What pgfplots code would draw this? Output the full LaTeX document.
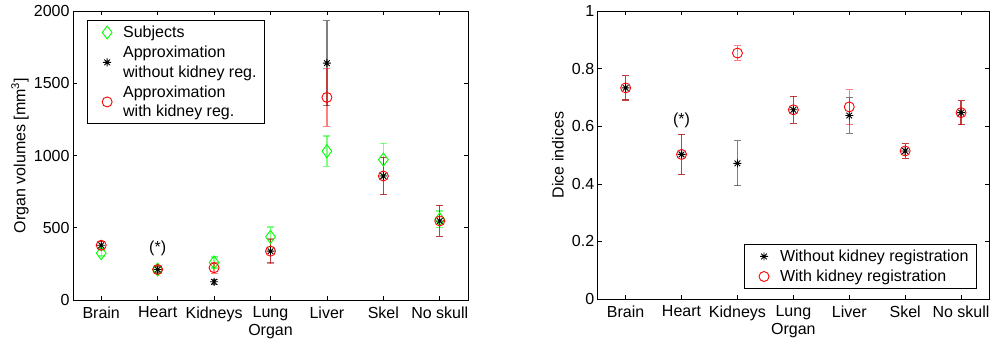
\documentclass[border=0pt]{standalone}
\usepackage{fontspec}
\setmainfont{Liberation Sans}
\usepackage{pgfplots}
\pgfplotsset{compat=1.18}
\usepackage{pgfplotstable}
\pgfdeclareplotmark{mstar}{%
 \pgfpathmoveto{\pgfqpoint{0pt}{\pgfplotmarksize}}\pgfpathlineto{\pgfqpoint{0pt}{-\pgfplotmarksize}}%
 \pgfpathmoveto{\pgfqpoint{\pgfplotmarksize}{0pt}}\pgfpathlineto{\pgfqpoint{-\pgfplotmarksize}{0pt}}%
 \pgfpathmoveto{\pgfqpoint{.707\pgfplotmarksize}{.707\pgfplotmarksize}}\pgfpathlineto{\pgfqpoint{-.707\pgfplotmarksize}{-.707\pgfplotmarksize}}%
 \pgfpathmoveto{\pgfqpoint{-.707\pgfplotmarksize}{.707\pgfplotmarksize}}\pgfpathlineto{\pgfqpoint{.707\pgfplotmarksize}{-.707\pgfplotmarksize}}%
 \pgfusepathqstroke}
\definecolor{mgreen}{RGB}{0,255,0}
\definecolor{mred}{RGB}{255,0,0}
\pgfplotstableread{
x y e
1 324 20
2 211 30
3 260 38
4 437 68
5 1030 105
6 972 113
7 559 57
}\volsub
\pgfplotstableread{
x y e
1 379 25
2 211 20
3 126 18
4 338 80
5 1639 294
6 858 130
7 547 107
}\volnoreg
\pgfplotstableread{
x y e
1 379 28
2 211 25
3 223 38
4 338 86
5 1402 200
6 858 130
7 547 107
}\volreg
\pgfplotstableread{
x y e
1 0.733 0.042
2 0.502 0.070
3 0.471 0.078
4 0.657 0.047
5 0.637 0.062
6 0.514 0.025
7 0.647 0.042
}\dicenoreg
\pgfplotstableread{
x y e
1 0.733 0.042
2 0.502 0.070
3 0.854 0.025
4 0.657 0.047
5 0.667 0.060
6 0.514 0.025
7 0.647 0.042
}\dicereg
\pgfplotsset{
  mstyle/.style={
    scale only axis,
    font=\fontsize{16}{19.5}\selectfont,
    /pgf/number format/assume math mode=true,
    /pgf/number format/1000 sep={},
    scaled y ticks=false,
    xmin=0.5, xmax=7.5,
    xtick={1,2,3,4,5,6,7},
    xticklabels={Brain,Heart,Kidneys,Lung,Liver,Skel,No skull},
    x tick label style={yshift=-3pt},
    tick align=inside,
    major tick length=4pt,
    axis line style={line width=0.8pt},
    every tick/.style={black, line width=0.6pt},
    xlabel={Organ},
    x label style={at={(axis description cs:0.5,0)}, anchor=center, yshift=-32pt},
    legend style={draw=black, line width=0.9pt, inner xsep=6pt, inner ysep=3.5pt,
      row sep=3pt, font=\fontsize{16}{19.5}\selectfont,
      cells={anchor=west, align=left}},
  },
  limg/.style={legend image code/.code={\path[draw=none,fill=none] (0pt,0pt) (28pt,0pt);\draw[##1] plot[only marks] coordinates {(14pt,0pt)};}},
  ebar/.style={error bars/.cd, y dir=both, y explicit,
     error bar style={#1, line width=1.2pt, opacity=0.5},
     error mark options={#1, line width=1.2pt, mark size=3.5pt, rotate=90}},
}
\begin{document}
\begin{tikzpicture}
\useasboundingbox (0,0) rectangle (992pt,338pt);
\begin{axis}[mstyle,
  at={(73pt,38pt)}, anchor=south west,
  width=395pt, height=289pt,
  ymin=0, ymax=2000, ytick={0,500,1000,1500,2000},
  ylabel={Organ volumes [mm\textsuperscript{3}]},
  y label style={at={([xshift=-53pt]axis description cs:0,0.5)}, anchor=center},
  legend style={at={(rel axis cs:0,1)}, anchor=north west, xshift=13.7pt, yshift=-9pt},
]
\addplot[only marks, limg, mgreen, mark=diamond, mark size=6.5pt, mark options={line width=0.9pt}, ebar=mgreen]
  table[x=x, y=y, y error=e] {\volsub};
\addlegendentry{Subjects}
\addplot[only marks, limg, black, mark=mstar, mark size=4pt, mark options={line width=0.9pt}, ebar=black]
  table[x=x, y=y, y error=e] {\volnoreg};
\addlegendentry{Approximation\\without kidney reg.}
\addplot[only marks, limg, mred, mark=o, mark size=5pt, mark options={line width=0.9pt}, ebar=mred]
  table[x=x, y=y, y error=e] {\volreg};
\addlegendentry{Approximation\\with kidney reg.}
\node at (axis cs:2,356) {(*)};
\end{axis}
\begin{axis}[mstyle,
  at={(597.7pt,39pt)}, anchor=south west,
  width=391.3pt, height=288pt,
  ymin=0, ymax=1, ytick={0,0.2,0.4,0.6,0.8,1},
  yticklabels={0,0.2,0.4,0.6,0.8,1},
  ylabel={Dice indices},
  y label style={at={([xshift=-39.7pt]axis description cs:0,0.5)}, anchor=center},
  legend style={at={(rel axis cs:1,0)}, anchor=south east, xshift=-12pt, yshift=10pt},
]
\addplot[only marks, limg, black, mark=mstar, mark size=4pt, mark options={line width=0.9pt}, ebar=black]
  table[x=x, y=y, y error=e] {\dicenoreg};
\addlegendentry{Without kidney registration}
\addplot[only marks, limg, mred, mark=o, mark size=5pt, mark options={line width=0.9pt}, ebar=mred]
  table[x=x, y=y, y error=e] {\dicereg};
\addlegendentry{With kidney registration}
\node at (axis cs:2,0.622) {(*)};
\end{axis}
\end{tikzpicture}
\end{document}
